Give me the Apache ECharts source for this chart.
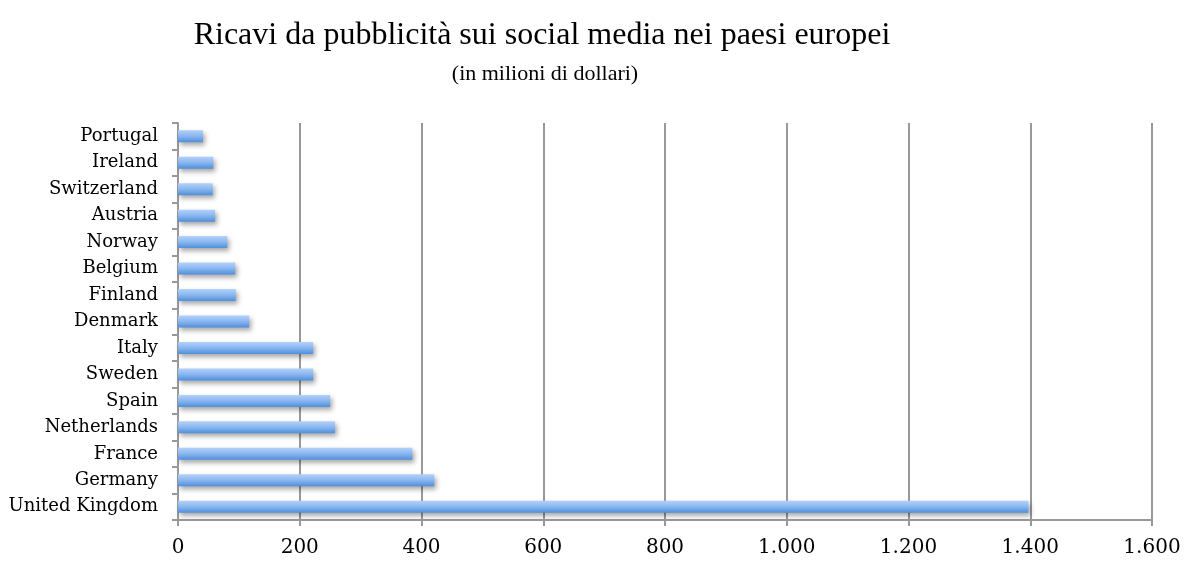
<!DOCTYPE html>
<html>
<head>
<meta charset="utf-8">
<script src="https://cdn.jsdelivr.net/npm/echarts@6/dist/echarts.min.js"></script>
<style>html,body{margin:0;padding:0;background:#fff;}#c{width:1184px;height:562px;}</style>
</head>
<body>
<div id="c"></div>
<script>
const categories = ["United Kingdom","Germany","France","Netherlands","Spain","Sweden","Italy","Denmark","Finland","Belgium","Norway","Austria","Switzerland","Ireland","Portugal"];
const values = [1397, 421, 385, 258, 250, 222, 222, 117, 95, 94, 81, 61, 57, 58, 41];
const titleText = "Ricavi da pubblicità sui social media nei paesi europei";
const subtitleText = "(in milioni di dollari)";

const chart = echarts.init(document.getElementById('c'));
const serif = '"Liberation Serif", "Times New Roman", serif';
const labelFont = '"DejaVu Serif", serif';
chart.setOption({
  animation: false,
  title: [
    {text: titleText, left: 537, top: 15, textAlign: 'center',
     textStyle: {fontFamily: serif, fontSize: 32, fontWeight: 'normal', color: '#000'}},
    {text: subtitleText, left: 540, top: 58, textAlign: 'center',
     textStyle: {fontFamily: serif, fontSize: 22, fontWeight: 'normal', color: '#000'}}
  ],
  grid: {left: 178, right: 32, top: 123, bottom: 42, containLabel: false},
  xAxis: {
    type: 'value', min: 0, max: 1600, interval: 200,
    axisLine: {show: true, lineStyle: {color: '#999', width: 2}},
    axisTick: {show: true, length: 6, lineStyle: {color: '#999', width: 2}},
    splitLine: {show: true, lineStyle: {color: '#999', width: 2}},
    axisLabel: {margin: 18, fontFamily: labelFont, fontSize: 20, color: '#000',
      formatter: v => v.toString().replace(/\B(?=(\d{3})+(?!\d))/g, '.')}
  },
  yAxis: {
    type: 'category', data: categories,
    axisLine: {show: true, lineStyle: {color: '#999', width: 2}},
    axisTick: {show: true, length: 6, lineStyle: {color: '#999', width: 2}},
    axisLabel: {margin: 20, fontFamily: labelFont, fontSize: 18, color: '#000', padding: [6, 0, 0, 0]}
  },
  series: [{
    type: 'bar', data: values, barWidth: 12,
    itemStyle: {
      color: new echarts.graphic.LinearGradient(0, 0, 0, 1, [
        {offset: 0, color: '#b3d1fb'},
        {offset: 0.5, color: '#89b6ef'},
        {offset: 1, color: '#4f8fdc'}
      ]),
      shadowColor: 'rgba(0,0,0,0.35)', shadowBlur: 5, shadowOffsetX: 2, shadowOffsetY: 3
    }
  }]
});
</script>
</body>
</html>
